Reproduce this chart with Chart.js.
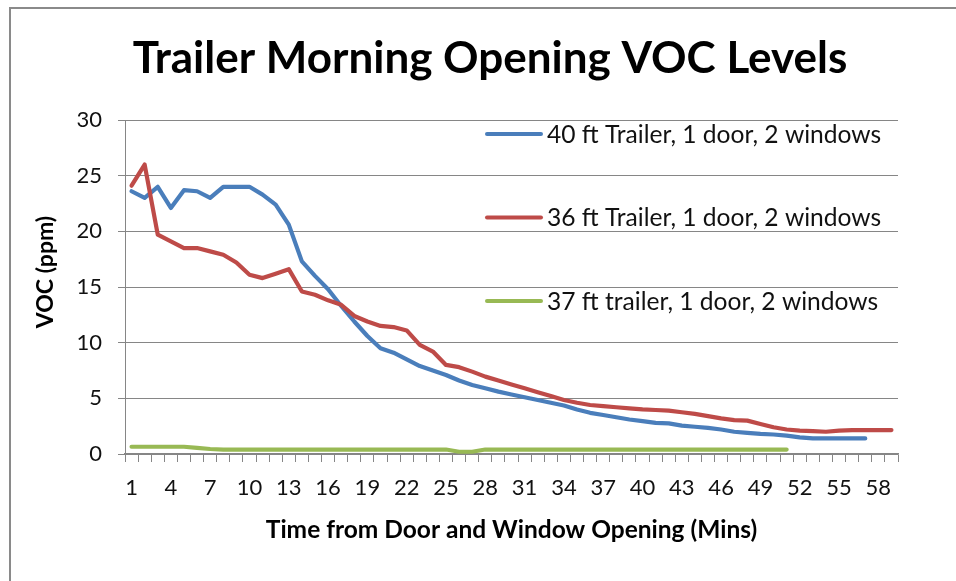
<!DOCTYPE html>
<html>
<head>
<meta charset="utf-8">
<script src="https://cdn.jsdelivr.net/npm/chart.js@4"></script>
<style>
  html, body { margin: 0; padding: 0; background: #ffffff; }
  #wrap { position: relative; width: 956px; height: 581px; }
</style>
</head>
<body>
<div id="wrap"><canvas id="c" width="956" height="581"></canvas></div>
<script>
const chartTitle = 'Trailer Morning Opening VOC Levels';
const xTitle = 'Time from Door and Window Opening (Mins)';
const yTitle = 'VOC (ppm)';

const categories = ['1','2','3','4','5','6','7','8','9','10','11','12','13','14','15','16','17','18','19','20',
  '21','22','23','24','25','26','27','28','29','30','31','32','33','34','35','36','37','38','39','40',
  '41','42','43','44','45','46','47','48','49','50','51','52','53','54','55','56','57','58','59'];
const xTickLabels = ['1','4','7','10','13','16','19','22','25','28','31','34','37','40','43','46','49','52','55','58'];
const yTicks = [0, 5, 10, 15, 20, 25, 30];

const seriesNames = ['40 ft Trailer, 1 door, 2 windows', '36 ft Trailer, 1 door, 2 windows', '37 ft trailer, 1 door, 2 windows'];
const trailer40 = [23.6, 23.0, 24.0, 22.1, 23.7, 23.6, 23.0, 24.0, 24.0, 24.0,
  23.3, 22.4, 20.6, 17.3, 16.0, 14.8, 13.3, 11.9, 10.6, 9.5,
  9.1, 8.5, 7.9, 7.5, 7.1, 6.6, 6.2, 5.9, 5.6, 5.35,
  5.1, 4.85, 4.6, 4.35, 4.0, 3.7, 3.5, 3.3, 3.1, 2.95,
  2.8, 2.75, 2.55, 2.45, 2.35, 2.2, 2.0, 1.9, 1.8, 1.75,
  1.65, 1.5, 1.4, 1.4, 1.4, 1.4, 1.4];
const trailer36 = [24.1, 26.0, 19.7, 19.1, 18.5, 18.5, 18.2, 17.9, 17.2, 16.1,
  15.8, 16.2, 16.6, 14.6, 14.3, 13.8, 13.4, 12.4, 11.9, 11.5,
  11.4, 11.1, 9.8, 9.2, 8.0, 7.8, 7.4, 6.95, 6.6, 6.25,
  5.9, 5.55, 5.2, 4.85, 4.6, 4.4, 4.3, 4.2, 4.1, 4.0,
  3.95, 3.9, 3.75, 3.6, 3.4, 3.2, 3.05, 3.0, 2.7, 2.4,
  2.2, 2.1, 2.05, 2.0, 2.1, 2.15, 2.15, 2.15, 2.15];
const trailer37 = [0.65, 0.65, 0.65, 0.65, 0.65, 0.55, 0.45, 0.4, 0.4, 0.4,
  0.4, 0.4, 0.4, 0.4, 0.4, 0.4, 0.4, 0.4, 0.4, 0.4,
  0.4, 0.4, 0.4, 0.4, 0.4, 0.2, 0.2, 0.4, 0.4, 0.4,
  0.4, 0.4, 0.4, 0.4, 0.4, 0.4, 0.4, 0.4, 0.4, 0.4,
  0.4, 0.4, 0.4, 0.4, 0.4, 0.4, 0.4, 0.4, 0.4, 0.4,
  0.4];
const seriesColors = ['#4A7EBB', '#BE4B48', '#98B954'];

const FONT = 'Lato, "Open Sans", sans-serif';
const GRID = '#868686';

const frame = {
  id: 'frame',
  beforeDraw(chart) {
    const ctx = chart.ctx;
    ctx.save();
    ctx.fillStyle = '#ffffff';
    ctx.fillRect(0, 0, chart.width, chart.height);
    ctx.strokeStyle = '#8a8a8a';
    ctx.lineWidth = 2;
    ctx.beginPath();
    ctx.moveTo(10, chart.height);
    ctx.lineTo(10, 8);
    ctx.lineTo(chart.width, 8);
    ctx.stroke();
    ctx.restore();
  }
};

// Re-centre the chart title over the region Excel used, and nudge the y-axis title up.
const placeTitles = {
  id: 'placeTitles',
  afterLayout(chart) {
    if (chart.titleBlock) {
      chart.titleBlock.left = 82;
      chart.titleBlock.right = 898;
    }
    const ys = chart.scales.y;
    if (ys && !ys._titleWrapped) {
      const orig = ys.drawTitle;
      ys.drawTitle = function () {
        const ctx = this.ctx;
        ctx.save();
        ctx.translate(0, -15);
        orig.call(this);
        ctx.restore();
      };
      ys._titleWrapped = true;
    }
  }
};

const insideLegend = {
  id: 'insideLegend',
  afterDraw(chart) {
    const ctx = chart.ctx;
    const ds = chart.data.datasets;
    ctx.save();
    ctx.font = '24.6px ' + FONT;
    ctx.textBaseline = 'middle';
    ctx.textAlign = 'left';
    const x0 = 487, lineLen = 54, gap = 6;
    const ys = [134, 217.5, 301];
    ds.forEach((d, i) => {
      const y = ys[i];
      ctx.strokeStyle = d.borderColor;
      ctx.lineWidth = 4;
      ctx.lineCap = 'round';
      ctx.beginPath();
      ctx.moveTo(x0, y);
      ctx.lineTo(x0 + lineLen, y);
      ctx.stroke();
      ctx.fillStyle = '#111111';
      ctx.fillText(d.label, x0 + lineLen + gap, y + 1);
    });
    ctx.restore();
  }
};

const makeDs = (label, data, color, order) => ({
  label, data, borderColor: color, backgroundColor: color,
  borderWidth: 4.2, pointRadius: 0, pointHoverRadius: 0, tension: 0,
  borderCapStyle: 'round', borderJoinStyle: 'round', fill: false, order
});

new Chart(document.getElementById('c'), {
  type: 'line',
  data: {
    labels: categories,
    datasets: [
      makeDs(seriesNames[0], trailer40, seriesColors[0], 2),
      makeDs(seriesNames[1], trailer36, seriesColors[1], 1),
      makeDs(seriesNames[2], trailer37, seriesColors[2], 0)
    ]
  },
  options: {
    responsive: false,
    animation: false,
    devicePixelRatio: 1,
    layout: { padding: { left: 0, right: 58, top: 0, bottom: 0 } },
    plugins: {
      legend: { display: false },
      tooltip: { enabled: false },
      title: {
        display: true,
        text: chartTitle,
        color: '#000000',
        font: { family: FONT, size: 44, weight: 'bold', lineHeight: 1.2 },
        padding: { top: 32, bottom: 35.2 }
      }
    },
    scales: {
      x: {
        type: 'category',
        offset: true,
        afterFit(s) { s.height = 127; },
        grid: { display: true, offset: true, drawOnChartArea: false, drawTicks: true, tickLength: 8, color: GRID, lineWidth: 1 },
        border: { display: true, color: GRID, width: 1.5 },
        ticks: {
          autoSkip: false, maxRotation: 0, minRotation: 0, padding: 13,
          color: '#111111', font: { family: FONT, size: 22 },
          callback(v, i) { const l = this.getLabelForValue(v); return xTickLabels.includes(l) ? l : ''; }
        },
        title: {
          display: true, text: xTitle, color: '#000000',
          font: { family: FONT, size: 24.5, weight: 'bold', lineHeight: 1.2 },
          padding: { top: 0, bottom: 36.5 }
        }
      },
      y: {
        min: 0, max: 30,
        afterFit(s) { s.width = 125; },
        afterBuildTicks(s) { s.ticks = yTicks.map(v => ({ value: v })); },
        grid: { display: true, drawOnChartArea: true, drawTicks: true, tickLength: 7, color: GRID, lineWidth: 1 },
        border: { display: true, color: GRID, width: 1 },
        ticks: { padding: 16, color: '#111111', font: { family: FONT, size: 22 } },
        title: {
          display: true, text: yTitle, color: '#000000',
          font: { family: FONT, size: 23, weight: 'bold', lineHeight: 1.2 },
          padding: { top: 32, bottom: 0 }
        }
      }
    }
  },
  plugins: [frame, placeTitles, insideLegend]
});
</script>
</body>
</html>
